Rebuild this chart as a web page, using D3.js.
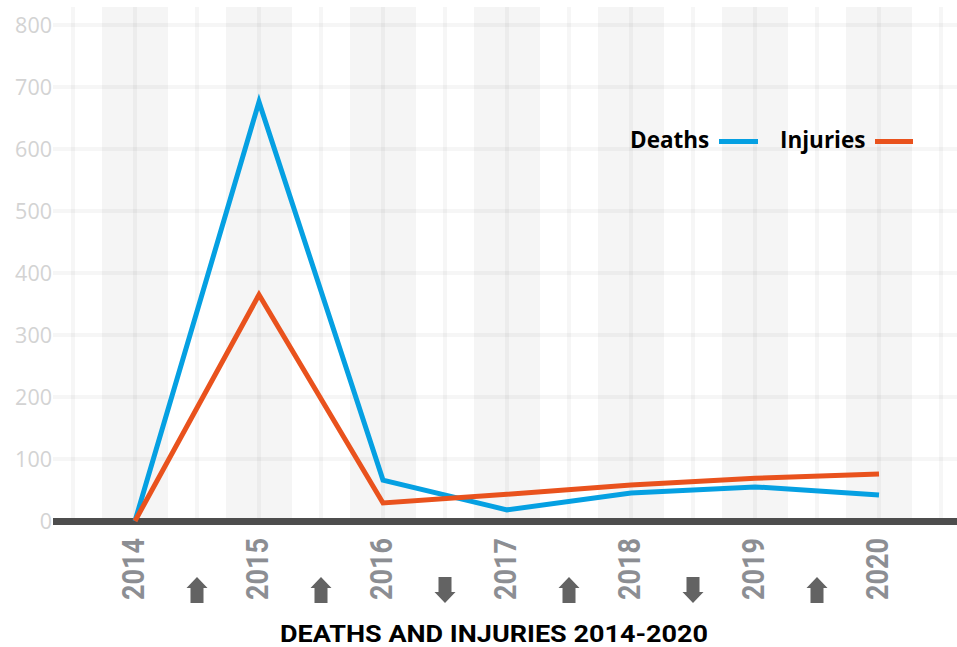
<!DOCTYPE html>
<html>
<head>
<meta charset="utf-8">
<script src="https://cdn.jsdelivr.net/npm/d3@7"></script>
<style>
  html, body { margin: 0; padding: 0; background: #fff; }
  svg { display: block; }
</style>
</head>
<body>
<svg id="chart" width="957" height="647"></svg>
<script>
// ---- data ----
const years = [2014, 2015, 2016, 2017, 2018, 2019, 2020];
const deaths = [0, 676, 66, 18, 45, 55, 42];
const injuries = [0, 365, 29, 43, 58, 69, 76];
const yTicks = [0, 100, 200, 300, 400, 500, 600, 700, 800];
const trend = ["up", "up", "down", "up", "down", "up"];
const seriesNames = ["Deaths", "Injuries"];
const title = "DEATHS AND INJURIES 2014-2020";

// ---- setup ----
const svg = d3.select("#chart");
const x = d3.scaleLinear().domain([2014, 2020]).range([135, 879]);
const y = d3.scaleLinear().domain([0, 800]).range([521, 25]);
const colors = { Deaths: "#05a0e2", Injuries: "#e9521d" };

const plotTop = 7, plotBottom = 518, gridLeft = 53, gridRight = 957;

// shaded bands centered on each year
svg.append("g").selectAll("rect").data(years).join("rect")
  .attr("x", d => x(d) - 33).attr("width", 66)
  .attr("y", plotTop).attr("height", plotBottom - plotTop)
  .attr("fill", "#f5f5f5");

// vertical grid lines (every half year)
const halfSteps = d3.range(2013.5, 2020.51, 0.5);
svg.append("g").selectAll("line").data(halfSteps).join("line")
  .attr("x1", d => x(d)).attr("x2", d => x(d))
  .attr("y1", plotTop).attr("y2", plotBottom)
  .attr("stroke", "rgba(0,0,0,0.035)").attr("stroke-width", 4);

// horizontal grid lines
svg.append("g").selectAll("line").data(yTicks.filter(d => d > 0)).join("line")
  .attr("x1", gridLeft).attr("x2", gridRight)
  .attr("y1", d => y(d)).attr("y2", d => y(d))
  .attr("stroke", "rgba(0,0,0,0.035)").attr("stroke-width", 4);

// y axis labels
const yAxis = d3.axisLeft(y).tickValues(yTicks).tickSize(0).tickPadding(0);
const yg = svg.append("g").attr("transform", "translate(52,0)").call(yAxis);
yg.select(".domain").remove();
yg.selectAll("text")
  .attr("font-family", "'Open Sans', sans-serif")
  .attr("font-size", 21.5)
  .attr("fill", "#d3d3d3")
  .attr("dy", "0.34em");

// baseline
svg.append("rect")
  .attr("x", gridLeft).attr("width", gridRight - gridLeft)
  .attr("y", 518).attr("height", 7)
  .attr("fill", "#4d4d4d");

// lines
const line = d3.line().x((d, i) => x(years[i])).y(d => y(d));
[["Deaths", deaths], ["Injuries", injuries]].forEach(([name, vals]) => {
  svg.append("path")
    .datum(vals)
    .attr("d", line)
    .attr("fill", "none")
    .attr("stroke", colors[name])
    .attr("stroke-width", 5)
    .attr("stroke-linejoin", "miter")
    .attr("stroke-linecap", "butt");
});

// year labels (rotated)
svg.append("g").selectAll("text").data(years).join("text")
  .attr("transform", d => `translate(${x(d) + 8.5},600) rotate(-90)`)
  .attr("text-anchor", "start")
  .attr("font-family", "Roboto, sans-serif")
  .attr("font-weight", 700)
  .attr("font-size", 32)
  .attr("fill", "#8c8e93")
  .attr("textLength", 62)
  .attr("lengthAdjust", "spacingAndGlyphs")
  .text(d => d);

// trend arrows between years
const arrowUp = "M0,-13 L10.5,-2 L6.5,-2 L6.5,13 L-6.5,13 L-6.5,-2 L-10.5,-2 Z";
svg.append("g").selectAll("path").data(trend).join("path")
  .attr("transform", (d, i) => `translate(${(x(years[i]) + x(years[i + 1])) / 2},590)` + (d === "down" ? " rotate(180)" : ""))
  .attr("d", arrowUp)
  .attr("fill", "#636363");

// title
svg.append("text")
  .attr("x", 494).attr("y", 642)
  .attr("text-anchor", "middle")
  .attr("font-family", "Roboto, sans-serif")
  .attr("font-weight", 700)
  .attr("font-size", 23)
  .attr("fill", "#000")
  .attr("textLength", 428)
  .attr("lengthAdjust", "spacingAndGlyphs")
  .text(title);

// legend
const legendPos = { Deaths: { tx: 630, lx1: 719, lx2: 758 }, Injuries: { tx: 780, lx1: 875, lx2: 913 } };
const lg = svg.append("g");
seriesNames.forEach(name => {
  const p = legendPos[name];
  lg.append("text")
    .attr("x", p.tx).attr("y", 148)
    .attr("font-family", "'Open Sans', sans-serif")
    .attr("font-weight", 700)
    .attr("font-size", 22.5)
    .attr("fill", "#000")
    .text(name);
  lg.append("line")
    .attr("x1", p.lx1).attr("x2", p.lx2)
    .attr("y1", 141.5).attr("y2", 141.5)
    .attr("stroke", colors[name]).attr("stroke-width", 5);
});
</script>
</body>
</html>
